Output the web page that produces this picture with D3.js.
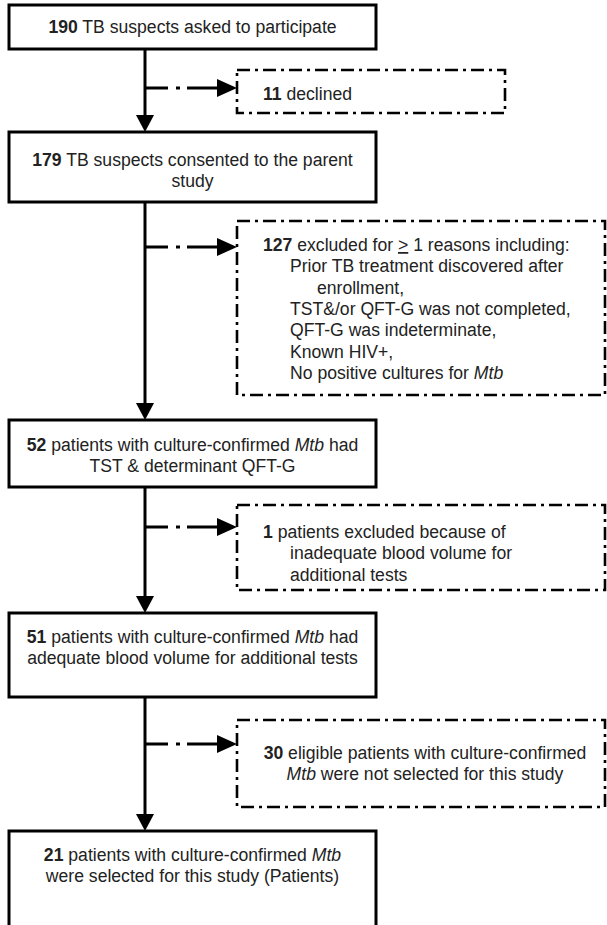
<!DOCTYPE html>
<html>
<head>
<meta charset="utf-8">
<script src="https://cdn.jsdelivr.net/npm/d3@7"></script>
<style>
  body { margin: 0; background: #fff; }
  svg text { font-family: "Liberation Sans", Arial, sans-serif; font-size: 17.6px; fill: #222; }
</style>
</head>
<body>
<div class="plot1"></div>
<script>
// flow counts and wording (** = bold, * = italic, _ = underlined)
var mainCounts = [190, 179, 52, 51, 21];
var mainText = [
  ["**190** TB suspects asked to participate"],
  ["**179** TB suspects consented to the parent", "study"],
  ["**52** patients with culture-confirmed *Mtb* had", "TST & determinant QFT-G"],
  ["**51** patients with culture-confirmed *Mtb* had", "adequate blood volume for additional tests"],
  ["**21** patients with culture-confirmed *Mtb*", "were selected for this study (Patients)"]
];
var exclCounts = [11, 127, 1, 30];
var exclText = [
  ["**11** declined"],
  ["**127** excluded for _>_ 1 reasons including:", "Prior TB treatment discovered after", "enrollment,",
   "TST&/or QFT-G was not completed,", "QFT-G was indeterminate,", "Known HIV+,", "No positive cultures for *Mtb*"],
  ["**1** patients excluded because of", "inadequate blood volume for", "additional tests"],
  ["**30** eligible patients with culture-confirmed", "*Mtb* were not selected for this study"]
];
// indent level per line of the exclusion boxes (-1 = centred)
var exclIndent = [[0], [0, 1, 2, 1, 1, 1, 1], [0, 1, 1], [-1, -1]];

// layout
var width = 607, height = 925;
var mainY = [[5, 49], [132, 202], [420, 487], [613, 697], [831, 960]];
var mainTextY = [27, 160, 445, 637, 855];     // centre of first line
var exclY = [[70, 113], [221, 395], [505, 590], [720, 807]];
var exclTextY = [94, 245, 532, 753];
var branchY = [88, 247, 527, 744];
var exclRight = [505, 605, 605, 605];
var boxX0 = 9, boxX1 = 376, spineX = 145, exclX0 = 237;
var lineH = 21.3;

var svg = d3.select(".plot1").append("svg")
  .attr("width", width)
  .attr("height", height);

function addRich(textSel, str) {
  var re = /(\*\*[^*]+\*\*|\*[^*]+\*|_[^_]+_|[^*_]+)/g;
  var parts = str.match(re);
  parts.forEach(function(p) {
    var t = textSel.append("tspan");
    if (p.startsWith("**")) t.style("font-weight", "bold").text(p.slice(2, -2));
    else if (p.startsWith("*")) t.style("font-style", "italic").text(p.slice(1, -1));
    else if (p.startsWith("_")) t.attr("text-decoration", "underline").text(p.slice(1, -1));
    else t.text(p);
  });
}

// spine segments between main boxes
var links = d3.pairs(mainY);
var spine = svg.selectAll(".spine")
  .data(links)
  .join("g");

spine.append("line")
  .attr("x1", spineX).attr("x2", spineX)
  .attr("y1", function(d) { return d[0][1]; })
  .attr("y2", function(d) { return d[1][0] - 14; })
  .attr("stroke", "#000")
  .attr("stroke-width", 3);

spine.append("path")
  .attr("d", function(d) {
    var y = d[1][0];
    return "M" + (spineX - 9) + "," + (y - 17) + "L" + (spineX + 9) + "," + (y - 17) + "L" + spineX + "," + y + "Z";
  })
  .attr("fill", "#000");

// main boxes
var mains = svg.selectAll(".main")
  .data(mainText)
  .join("g");

mains.append("rect")
  .attr("x", boxX0)
  .attr("y", function(d, i) { return mainY[i][0]; })
  .attr("width", boxX1 - boxX0)
  .attr("height", function(d, i) { return mainY[i][1] - mainY[i][0]; })
  .attr("fill", "#fff")
  .attr("stroke", "#000")
  .attr("stroke-width", 3);

mains.each(function(lines, i) {
  var g = d3.select(this);
  lines.forEach(function(l, k) {
    var t = g.append("text")
      .attr("x", (boxX0 + boxX1) / 2)
      .attr("y", mainTextY[i] + 6 + k * lineH)
      .attr("text-anchor", "middle");
    addRich(t, l);
  });
});

// exclusion branches
var excl = svg.selectAll(".excl")
  .data(exclText)
  .join("g");

excl.append("line")
  .attr("x1", spineX)
  .attr("x2", exclX0 - 18)
  .attr("y1", function(d, i) { return branchY[i]; })
  .attr("y2", function(d, i) { return branchY[i]; })
  .attr("stroke", "#000")
  .attr("stroke-width", 3)
  .attr("stroke-dasharray", "23,8,4,7,40");

excl.append("path")
  .attr("d", function(d, i) {
    var y = branchY[i];
    return "M" + (exclX0 - 20) + "," + (y - 9) + "L" + exclX0 + "," + y + "L" + (exclX0 - 20) + "," + (y + 9) + "Z";
  })
  .attr("fill", "#000");

excl.append("rect")
  .attr("x", exclX0)
  .attr("y", function(d, i) { return exclY[i][0]; })
  .attr("width", function(d, i) { return exclRight[i] - exclX0; })
  .attr("height", function(d, i) { return exclY[i][1] - exclY[i][0]; })
  .attr("fill", "none")
  .attr("stroke", "#000")
  .attr("stroke-width", 2.6)
  .attr("stroke-dasharray", "13,5,3,5");

excl.each(function(lines, i) {
  var g = d3.select(this);
  lines.forEach(function(l, k) {
    var ind = exclIndent[i][k];
    var t = g.append("text")
      .attr("y", exclTextY[i] + 6 + k * lineH)
      .attr("x", ind < 0 ? (exclX0 + exclRight[i]) / 2 + 4 : 263 + ind * 27)
      .attr("text-anchor", ind < 0 ? "middle" : "start");
    addRich(t, l);
  });
});
</script>
</body>
</html>
